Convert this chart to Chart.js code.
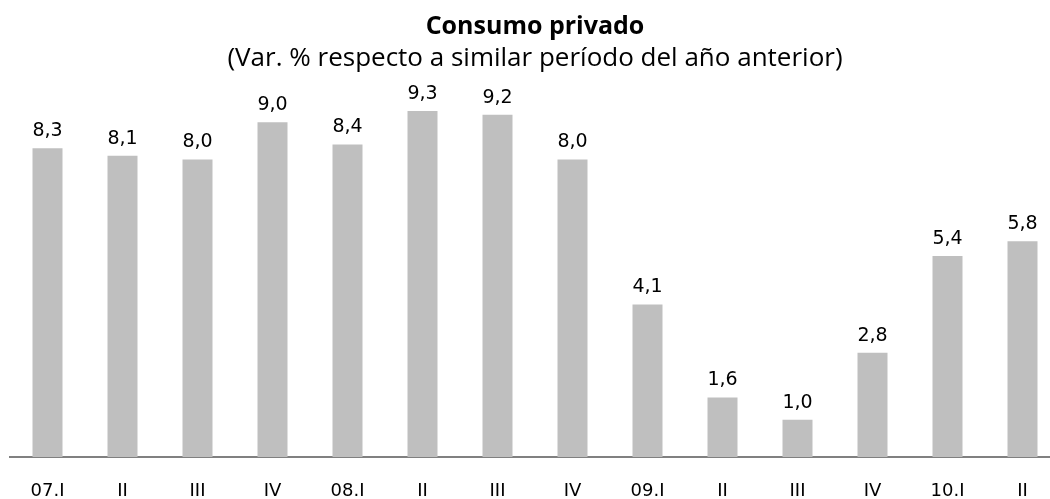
<!DOCTYPE html>
<html>
<head>
<meta charset="utf-8">
<script src="https://cdn.jsdelivr.net/npm/chart.js@4"></script>
<style>
  html, body { margin: 0; padding: 0; background: #fff; overflow: hidden; }
  #wrap { width: 1062px; height: 499px; }
</style>
</head>
<body>
<div id="wrap"><canvas id="barChart"></canvas></div>
<script>
// Quarters shown on the x axis
const quarterLabels = ['07.I', 'II', 'III', 'IV', '08.I', 'II', 'III', 'IV', '09.I', 'II', 'III', 'IV', '10.I', 'II'];

// Private consumption, % change vs same period of previous year
const consumoValues = [8.3, 8.1, 8.0, 9.0, 8.4, 9.3, 9.2, 8.0, 4.1, 1.6, 1.0, 2.8, 5.4, 5.8];

// Value labels above each bar (comma decimals)
const valueLabels = {
    id: 'valueLabels',
    afterDatasetsDraw(chart) {
        const ctx = chart.ctx;
        const meta = chart.getDatasetMeta(0);
        ctx.save();
        ctx.font = '19px "DejaVu Sans"';
        ctx.fillStyle = '#000';
        ctx.textAlign = 'center';
        ctx.textBaseline = 'middle';
        meta.data.forEach((bar, i) => {
            const text = consumoValues[i].toFixed(1).replace('.', ',');
            ctx.fillText(text, bar.x, bar.y - 17);
        });
        ctx.restore();
    }
};

const barChart = new Chart(document.getElementById('barChart'), {
    type: 'bar',
    data: {
        labels: quarterLabels,
        datasets: [{
            data: consumoValues,
            backgroundColor: '#BFBFBF',
            borderWidth: 0,
            barPercentage: 0.4,
            categoryPercentage: 1.0
        }]
    },
    options: {
        responsive: true,
        maintainAspectRatio: false,
        animation: false,
        layout: {
            padding: { left: 10, right: 2, top: 0, bottom: 2 }
        },
        scales: {
            y: {
                display: false,
                min: 0,
                max: 10
            },
            x: {
                grid: { display: false, drawTicks: false },
                border: { color: '#808080', width: 2 },
                ticks: {
                    color: '#000',
                    font: { family: 'DejaVu Sans', size: 18 },
                    padding: 24,
                    maxRotation: 0
                },
                afterFit(scale) {
                    scale.height = 40; // keep the axis line near the bottom
                }
            }
        },
        plugins: {
            legend: { display: false },
            tooltip: { enabled: false },
            title: {
                display: true,
                text: 'Consumo privado',
                color: '#000',
                font: { family: 'Open Sans', size: 25, weight: 'bold', lineHeight: 1.2 },
                padding: { top: 12, bottom: 1.4 }
            },
            subtitle: {
                display: true,
                text: '(Var. % respecto a similar período del año anterior)',
                color: '#000',
                font: { family: 'Open Sans', size: 26, lineHeight: 1.2 },
                padding: { top: 0, bottom: 10.4 }
            }
        }
    },
    plugins: [valueLabels]
});
</script>
</body>
</html>
